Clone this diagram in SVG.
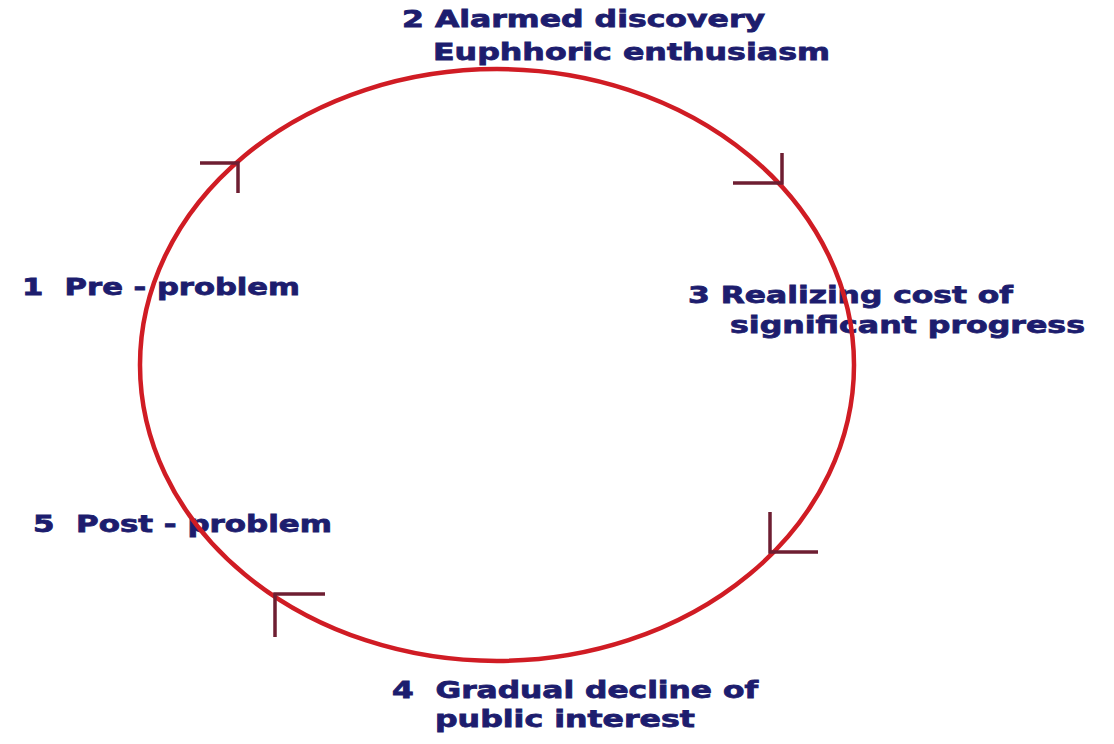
<svg xmlns="http://www.w3.org/2000/svg" width="1114" height="744" viewBox="0 0 1114 744">
<style>
.lbl{font-family:"DejaVu Sans","Liberation Sans",Arial,sans-serif;font-weight:bold;font-size:23px;fill:#1d1d6e;stroke:#1d1d6e;stroke-width:0.8;white-space:pre}
.ring{fill:none;stroke:#d01c24;stroke-width:4.5}
.head{fill:none;stroke:#6e1e32;stroke-width:3.5;stroke-linecap:butt}
</style>
<rect width="1114" height="744" fill="#ffffff"/>
<g id="node2">
<text class="lbl" x="402" y="27" textLength="363" lengthAdjust="spacingAndGlyphs">2 Alarmed discovery</text>
<text class="lbl" x="433" y="60" textLength="397" lengthAdjust="spacingAndGlyphs">Euphhoric enthusiasm</text>
</g>
<g id="node1">
<text class="lbl" x="22" y="295" textLength="278" lengthAdjust="spacingAndGlyphs">1  Pre - problem</text>
</g>
<g id="node3">
<text class="lbl" x="688" y="303" textLength="325" lengthAdjust="spacingAndGlyphs">3 Realizing cost of</text>
<text class="lbl" x="730" y="333" textLength="355" lengthAdjust="spacingAndGlyphs">significant progress</text>
</g>
<g id="node5">
<text class="lbl" x="33" y="532" textLength="299" lengthAdjust="spacingAndGlyphs">5  Post - problem</text>
</g>
<g id="node4">
<text class="lbl" x="392" y="698" textLength="366" lengthAdjust="spacingAndGlyphs">4  Gradual decline of</text>
<text class="lbl" x="435" y="727" textLength="260" lengthAdjust="spacingAndGlyphs">public interest</text>
</g>
<g id="connectors">
<ellipse class="ring" cx="497" cy="365" rx="357" ry="296"/>
<path class="head" d="M200,163 H238 V193"/>
<path class="head" d="M733,183 H782 V153"/>
<path class="head" d="M818,552 H770 V512"/>
<path class="head" d="M325,594 H275 V637"/>
</g>
</svg>
